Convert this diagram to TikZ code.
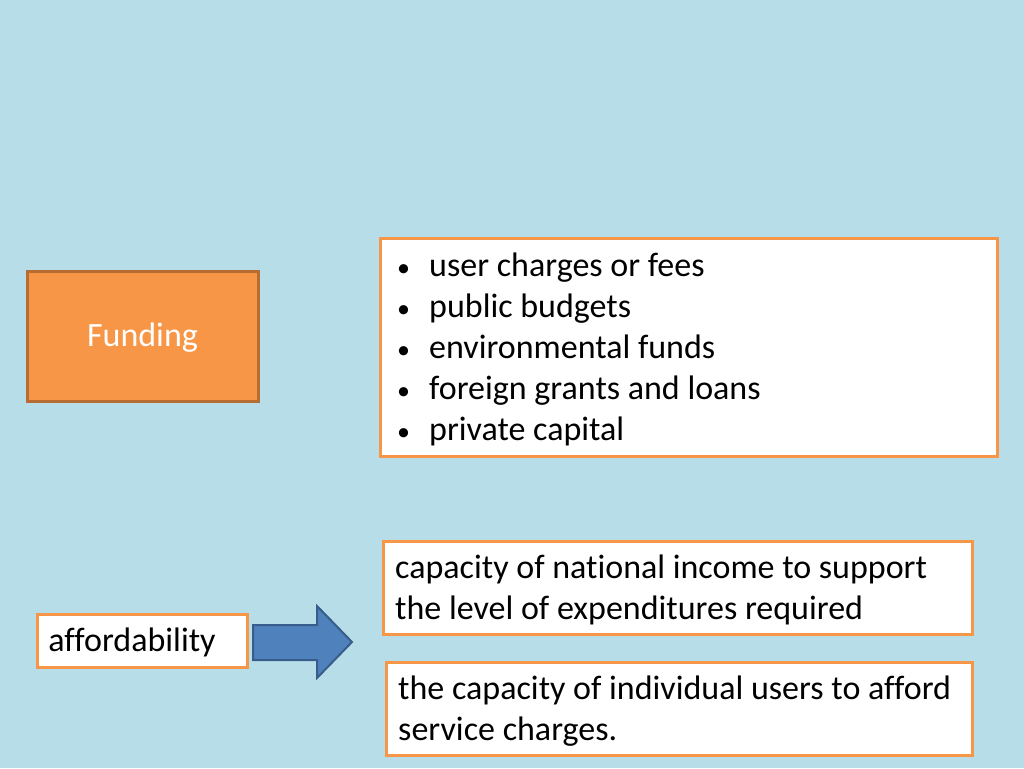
\documentclass[tikz,border=0pt]{standalone}
\usepackage{fontspec}
\setmainfont{Carlito}[Ligatures=NoCommon]
\usetikzlibrary{shapes.arrows}
\definecolor{bg}{HTML}{B7DEE8}
\definecolor{org}{HTML}{F79646}
\definecolor{orgd}{HTML}{B66D31}
\definecolor{blu}{HTML}{4F81BD}
\definecolor{blud}{HTML}{385D8A}
\newcommand{\bul}{\makebox[32pt][l]{\fontsize{26}{41}\selectfont\textbullet}}
\tikzset{
 wbox/.style={draw=org,line width=3pt,fill=white},
 txt/.style={font=\fontsize{34}{41}\selectfont,anchor=north west,align=left,inner sep=0pt}
}
\begin{document}
\begin{tikzpicture}[x=1pt,y=-1pt]
\fill[bg] (0,0) rectangle (1024,768);
\useasboundingbox (0,0) rectangle (1024,768);
\draw[draw=orgd,line width=3pt,fill=org] (27,271) rectangle (258,401);
\node[font=\fontsize{34}{40}\selectfont,text=white] (fund) at (142.5,338) {Funding};
\draw[wbox] (380,238) rectangle (997,456);
\node[txt] (list) at (397,253) {\bul user charges or fees\\
\bul public budgets\\
\bul environmental funds\\
\bul foreign grants and loans\\
\bul private capital};
\draw[wbox] (383,541) rectangle (972,634);
\node[txt] (b2) at (395,555) {capacity of national income to support\\the level of expenditures required};
\draw[wbox] (386,662) rectangle (972,755);
\node[txt] (b3) at (398,676) {the capacity of individual users to afford\\service charges.};
\draw[wbox] (37,614) rectangle (247,667);
\node[font=\fontsize{34}{40}\selectfont] (aff) at (132,642) {affordability};
\draw[draw=blud,line width=2pt,fill=blu] (253,625)--(317,625)--(317,606)--(352,642)--(317,678)--(317,660)--(253,660)--cycle;
\end{tikzpicture}
\end{document}
